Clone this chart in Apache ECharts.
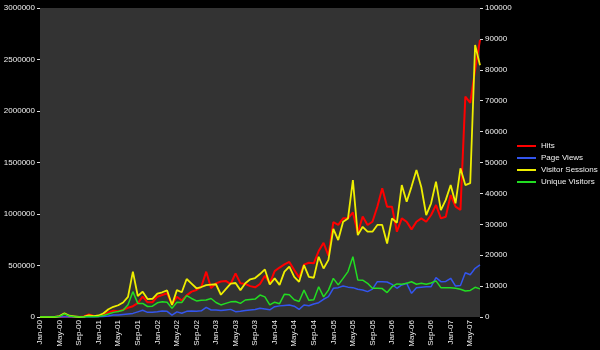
<!DOCTYPE html>
<html><head><meta charset="utf-8">
<script src="https://cdn.jsdelivr.net/npm/echarts/dist/echarts.min.js"></script>
<style>html,body{margin:0;padding:0;background:#000;}#c{width:600px;height:350px;}</style>
</head><body><div id="c"></div>
<script>
const categories = [
"Jan-00","Feb-00","Mar-00","Apr-00","May-00","Jun-00","Jul-00","Aug-00","Sep-00","Oct-00","Nov-00","Dec-00",
"Jan-01","Feb-01","Mar-01","Apr-01","May-01","Jun-01","Jul-01","Aug-01","Sep-01","Oct-01","Nov-01","Dec-01",
"Jan-02","Feb-02","Mar-02","Apr-02","May-02","Jun-02","Jul-02","Aug-02","Sep-02","Oct-02","Nov-02","Dec-02",
"Jan-03","Feb-03","Mar-03","Apr-03","May-03","Jun-03","Jul-03","Aug-03","Sep-03","Oct-03","Nov-03","Dec-03",
"Jan-04","Feb-04","Mar-04","Apr-04","May-04","Jun-04","Jul-04","Aug-04","Sep-04","Oct-04","Nov-04","Dec-04",
"Jan-05","Feb-05","Mar-05","Apr-05","May-05","Jun-05","Jul-05","Aug-05","Sep-05","Oct-05","Nov-05","Dec-05",
"Jan-06","Feb-06","Mar-06","Apr-06","May-06","Jun-06","Jul-06","Aug-06","Sep-06","Oct-06","Nov-06","Dec-06",
"Jan-07","Feb-07","Mar-07","Apr-07","May-07","Jun-07","Jul-07"];

const hits = [0,0,0,0,0,3000,2000,0,0,5000,
25000,10000,8000,20000,45000,60000,55000,70000,90000,105000,
135000,197000,142000,143000,197000,213000,230000,120000,197000,160000,
210000,246000,262000,294000,440000,280000,327000,345000,350000,320000,
424000,327000,320000,300000,288000,320000,400000,327000,445000,480000,
510000,535000,456000,385000,508000,527000,521000,640000,720000,595000,
920000,895000,958000,958000,1015000,815000,975000,893000,925000,1071000,
1250000,1071000,1071000,828000,958000,925000,851000,925000,958000,925000,
990000,1087000,958000,974000,1184000,1071000,1040000,2140000,2080000,2400000,
2690000];

const pageViews = [0,0,0,0,0,2000,1000,0,0,0,
2000,1000,2000,5000,10000,19000,20000,25000,30000,35000,
50000,65000,45000,45000,50000,58000,55000,19000,50000,36000,
55000,58000,55000,60000,94000,68000,68000,62000,68000,74000,
52000,55000,62000,68000,72000,84000,78000,70000,100000,108000,
112000,116000,105000,74000,116000,110000,126000,139000,172000,197000,
279000,285000,301000,290000,285000,269000,262000,246000,270000,343000,
343000,340000,317000,279000,311000,327000,230000,285000,290000,294000,
294000,382000,343000,345000,376000,300000,305000,430000,410000,473000,
505000];

const visitorSessions = [0,0,0,0,300,1200,400,200,0,100,
500,300,500,1200,2500,3300,3800,4700,6500,14700,
6800,8200,5800,5900,7600,8000,8600,3900,8700,8000,
12300,10800,9300,9700,10300,10500,10600,7200,9000,10800,
11000,8700,10900,12200,12600,13900,15400,10500,12500,10400,
14700,16300,13000,11400,16800,13000,12700,19500,15700,18500,
28500,24900,30800,31900,44300,26500,29200,27600,27600,29800,
29800,23800,31900,30500,42700,37300,42200,47600,42000,33000,
36800,43800,34600,37900,42700,36800,48100,42700,43300,88000,
81500];

const uniqueVisitors = [0,0,0,0,200,1000,300,100,0,0,
200,100,200,500,1000,1500,1800,2200,4000,8200,
4400,4400,3400,3500,4600,4900,4800,2800,4800,4700,
6900,6000,5200,5400,5500,6000,4700,3900,4400,4900,
5000,4400,5500,5700,5800,7100,6500,3900,4800,4300,
7400,7200,5600,5000,8700,5400,5600,9800,6500,8700,
12500,10400,12500,14700,19500,12000,11900,10900,9300,9300,
9200,7900,9800,10700,10600,10900,11400,10600,10900,10600,
11000,11700,9500,9500,9500,9300,9000,8400,8600,9600,
9100];

const seriesNames = ["Hits","Page Views","Visitor Sessions","Unique Visitors"];
const seriesColors = ["#ff0000","#3355ee","#eeee00","#22dd22"];

const font = "Liberation Sans, Arial, sans-serif";
const txt = "#f0f0f0";

const chart = echarts.init(document.getElementById('c'), null, {renderer:'canvas'});
chart.setOption({
  backgroundColor: '#000000',
  animation: false,
  grid: {left: 40, right: 120, top: 8, bottom: 33, show: true, backgroundColor: '#333333', borderWidth: 0},
  legend: {
    orient: 'vertical', left: 517, top: 140, width: 83, padding: 0,
    itemWidth: 19, itemHeight: 2, itemGap: 0, icon: 'rect',
    textStyle: {color: txt, fontSize: 8, fontFamily: font, lineHeight: 12, width: 70, overflow: 'none'},
    data: seriesNames
  },
  xAxis: {
    type: 'category', data: categories, boundaryGap: false,
    axisLine: {show: false}, axisTick: {show: false},
    axisLabel: {rotate: 90, interval: 3, fontSize: 8, color: txt, fontFamily: font, margin: 3},
    splitLine: {show: false}
  },
  yAxis: [
    {type: 'value', position: 'left', min: 0, max: 3000000, interval: 500000,
     axisLine: {show: false}, axisTick: {show: true, length: 3, lineStyle: {color: '#dddddd'}},
     axisLabel: {fontSize: 8, color: txt, fontFamily: font, margin: 5, formatter: v => String(v)},
     splitLine: {show: false}},
    {type: 'value', position: 'right', min: 0, max: 100000, interval: 10000,
     axisLine: {show: false}, axisTick: {show: true, length: 3, lineStyle: {color: '#dddddd'}},
     axisLabel: {fontSize: 8, color: txt, fontFamily: font, margin: 5, formatter: v => String(v)},
     splitLine: {show: false}}
  ],
  series: [
    {name: seriesNames[0], type: 'line', yAxisIndex: 0, data: hits, symbol: 'none', color: seriesColors[0], lineStyle: {width: 2}},
    {name: seriesNames[1], type: 'line', yAxisIndex: 0, data: pageViews, symbol: 'none', color: seriesColors[1], lineStyle: {width: 1.5}},
    {name: seriesNames[2], type: 'line', yAxisIndex: 1, data: visitorSessions, symbol: 'none', color: seriesColors[2], lineStyle: {width: 1.8}},
    {name: seriesNames[3], type: 'line', yAxisIndex: 1, data: uniqueVisitors, symbol: 'none', color: seriesColors[3], lineStyle: {width: 1.5}}
  ]
});
</script></body></html>
